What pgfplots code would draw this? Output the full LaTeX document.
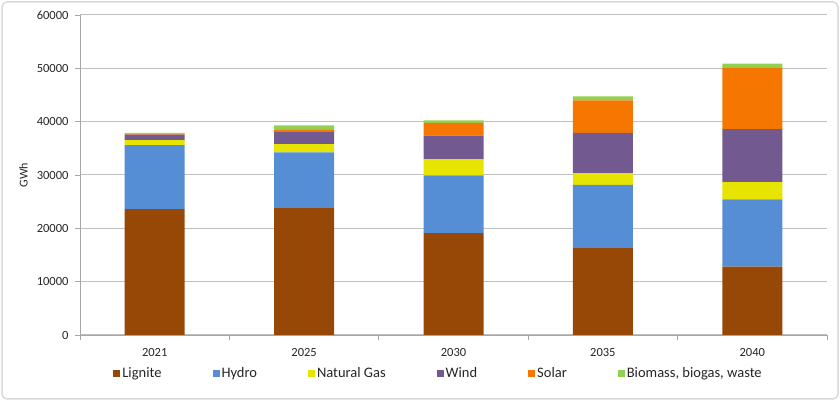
\documentclass[border=0pt]{standalone}
\usepackage{pgfplots}
\usepackage{pgfplotstable}
\pgfplotsset{compat=1.18}
\usepackage{fontspec}
\setmainfont{Carlito}

\definecolor{lignite}{RGB}{152,72,6}
\definecolor{hydro}{RGB}{85,142,213}
\definecolor{gas}{RGB}{230,228,0}
\definecolor{wind}{RGB}{114,89,144}
\definecolor{solar}{RGB}{245,118,0}
\definecolor{bio}{RGB}{146,208,80}

% GWh per year
\pgfplotstableread{
x  lignite hydro gas  wind solar bio
0  23600   12000 950  1000 200   150
1  23800   10450 1550 2250 500   750
2  19100   10850 3000 4450 2350  500
3  16450   11700 2200 7550 6100  750
4  12800   12650 3200 9950 11600 700
}\gen

\begin{document}
\begin{tikzpicture}
\useasboundingbox (0,0) rectangle (840pt,401pt);
\draw[gray!30, line width=1.5pt, rounded corners=5pt] (2pt,2pt) rectangle (838pt,399pt);
\begin{axis}[
    at={(80pt,66pt)}, anchor=south west,
    scale only axis, width=747pt, height=320pt,
    ybar stacked, bar width=60pt,
    xmin=-0.5, xmax=4.5, ymin=0, ymax=60000,
    xtick={0,...,4},
    xticklabels={2021,2025,2030,2035,2040},
    minor xtick={-0.5,0.5,1.5,2.5,3.5,4.5},
    ytick={0,10000,...,60000},
    scaled y ticks=false,
    tick align=outside,
    major tick length=5pt, minor tick length=5pt,
    major x tick style={draw=none},
    tick style={gray!70, line width=0.8pt},
    axis x line*=bottom, axis y line*=left,
    axis line style={gray!70, line width=0.8pt},
    ymajorgrids, grid style={gray!50, line width=1pt},
    /pgf/number format/1000 sep={},
    /pgf/number format/assume math mode=true,
    ticklabel style={font=\fontsize{12.5}{14}\selectfont, color=black!85},
    xticklabel style={yshift=-5pt},
    yticklabel style={xshift=-3pt},
    ylabel={GWh},
    every axis y label/.style={at={(axis description cs:-0.0756,0.5)}, rotate=90, anchor=center, font=\fontsize{12}{14}\selectfont, color=black!85},
    legend style={at={(0.48,-0.119)}, anchor=center, legend columns=6, draw=none,
        font=\fontsize{14.5}{16}\selectfont, text=black!85,
        /tikz/every even column/.append style={column sep=49pt}},
    legend image code/.code={\path[#1] (0pt,-3.5pt) rectangle (7pt,3.5pt);},
    every axis plot/.append style={draw=none},
]
\addplot[fill=lignite] table[x=x, y=lignite] {\gen};
\addplot[fill=hydro] table[x=x, y=hydro] {\gen};
\addplot[fill=gas] table[x=x, y=gas] {\gen};
\addplot[fill=wind] table[x=x, y=wind] {\gen};
\addplot[fill=solar] table[x=x, y=solar] {\gen};
\addplot[fill=bio] table[x=x, y=bio] {\gen};
\legend{Lignite, Hydro, Natural Gas, Wind, Solar, {Biomass, biogas, waste}}
\end{axis}
\end{tikzpicture}
\end{document}
